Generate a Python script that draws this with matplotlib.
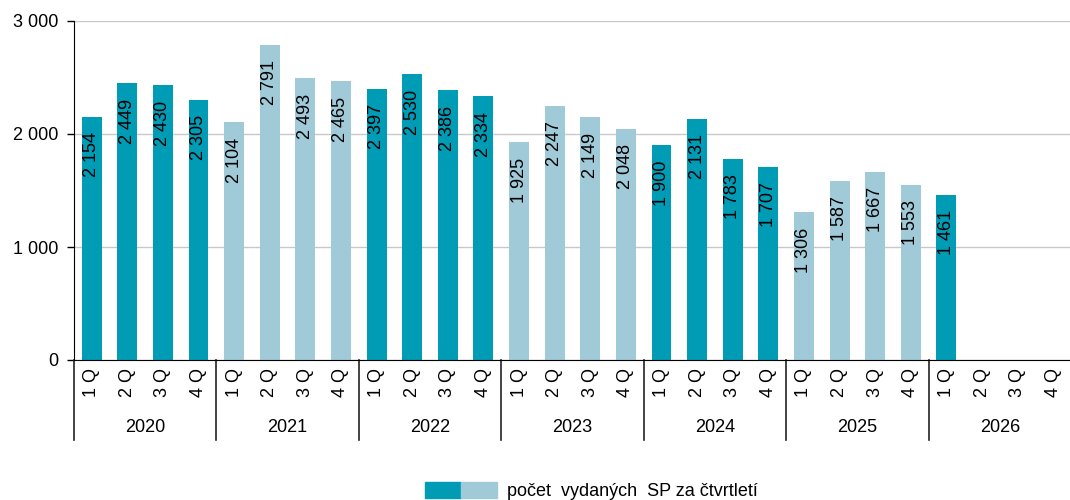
import matplotlib.pyplot as plt
from matplotlib.patches import Patch
from matplotlib.legend_handler import HandlerTuple
import matplotlib.transforms as mtransforms

plt.rcParams['font.family'] = ['Liberation Sans', 'DejaVu Sans']

years = ['2020', '2021', '2022', '2023', '2024', '2025', '2026']
quarters = ['1 Q', '2 Q', '3 Q', '4 Q']
values = [2154, 2449, 2430, 2305,
          2104, 2791, 2493, 2465,
          2397, 2530, 2386, 2334,
          1925, 2247, 2149, 2048,
          1900, 2131, 1783, 1707,
          1306, 1587, 1667, 1553,
          1461]
legend_label = 'počet  vydaných  SP za čtvrtletí'

dark = '#009bb4'
light = '#a0cad8'
fs = 13


def fmt(v):
    return f'{v:,}'.replace(',', ' ')


fig = plt.figure(figsize=(10.7, 5), dpi=100)
ax = fig.add_axes([0.069, 0.28, 0.932, 0.678])

n = len(years) * len(quarters)
colors = [dark if (i // 4) % 2 == 0 else light for i in range(len(values))]
xs = list(range(len(values)))
ax.bar(xs, values, width=0.56, color=colors, zorder=2)

# value labels inside bars
for x, v in zip(xs, values):
    ax.annotate(fmt(v), (x, v), xytext=(0, -11), textcoords='offset points',
                rotation=90, ha='center', va='top', fontsize=fs, color='black')

ax.set_xlim(-0.5, n - 0.5)
ax.set_ylim(0, 3000)
ax.set_yticks([0, 1000, 2000, 3000])
ax.set_yticklabels([fmt(t) for t in [0, 1000, 2000, 3000]], fontsize=fs)
ax.yaxis.grid(True, color='#c8c8c8', lw=1)
ax.set_axisbelow(True)
ax.tick_params(axis='y', length=5, direction='out', width=1, pad=6)

ax.set_xticks(range(n))
ax.set_xticklabels(quarters * len(years), rotation=90, fontsize=fs)
ax.tick_params(axis='x', length=0, pad=6)

for s in ['top', 'right']:
    ax.spines[s].set_visible(False)
ax.spines['left'].set_color('black')
ax.spines['bottom'].set_color('black')

# year groups below axis
trans = mtransforms.blended_transform_factory(ax.transData, ax.transAxes)
for k, yr in enumerate(years):
    ax.text(4 * k + 1.5, -0.2, yr, transform=trans, ha='center', va='center', fontsize=fs)
for k in range(len(years) + 1):
    ax.plot([4 * k - 0.5, 4 * k - 0.5], [0, -0.236], transform=trans,
            color='#222222', lw=1.2, clip_on=False)

handle = (Patch(color=dark), Patch(color=light))
fig.legend([handle], [legend_label], handler_map={tuple: HandlerTuple(ndivide=None, pad=0)},
           loc='center', bbox_to_anchor=(0.553, 0.018), frameon=False, fontsize=fs,
           handlelength=4.0, handleheight=1.0, handletextpad=0.55)

fig.savefig('out.png', dpi=100)
